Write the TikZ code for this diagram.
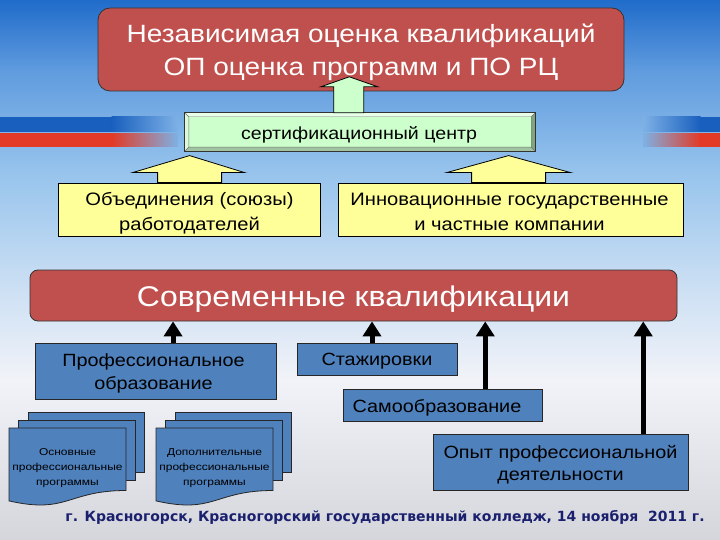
\documentclass[tikz,border=0pt]{standalone}
\usepackage{fontspec}
\setmainfont{Liberation Sans}
\newfontfamily\boxfont[FakeStretch=1.12]{Liberation Sans}
\newfontfamily\docfont[FakeStretch=1.2]{Liberation Sans}
\newfontfamily\footfont{DejaVu Sans}
\usetikzlibrary{arrows.meta,calc}
\definecolor{bgA}{RGB}{32,108,202}
\definecolor{bgB}{RGB}{95,155,222}
\definecolor{bgC}{RGB}{150,195,236}
\definecolor{bgD}{RGB}{205,224,244}
\definecolor{bgE}{RGB}{242,243,248}
\definecolor{bgF}{RGB}{212,214,220}
\definecolor{stripeblue}{RGB}{25,95,190}
\definecolor{stripered}{RGB}{226,58,38}
\definecolor{redf}{RGB}{192,80,77}
\definecolor{bluef}{RGB}{79,129,189}
\definecolor{yelf}{RGB}{255,255,153}
\definecolor{certf}{RGB}{204,255,204}
\definecolor{certlt}{RGB}{232,255,232}
\definecolor{certlt2}{RGB}{218,250,218}
\definecolor{certdk}{RGB}{160,196,160}
\definecolor{certdk2}{RGB}{128,165,128}
\definecolor{navy}{RGB}{26,32,110}
\begin{document}
\begin{tikzpicture}[x=1pt,y=-1pt,
  redbox/.style={draw=black!80, line width=0.8pt, fill=redf, inner sep=0pt},
  bluebox/.style={draw=black!85, line width=0.8pt, fill=bluef, inner sep=0pt},
  yelbox/.style={draw=black, line width=0.8pt, fill=yelf, inner sep=0pt},
  blockarrow/.style={draw=black, line width=0.8pt},
  blkarrow/.style={line width=5pt, -{Triangle[width=18pt,length=15pt]}},
  docshape/.style={draw=black!85, line width=0.8pt, fill=bluef},
  titletxt/.style={anchor=base, inner sep=0pt, text=white, font=\boxfont\fontsize{25}{30}\selectfont},
  midtxt/.style={anchor=base, inner sep=0pt, text=white, font=\boxfont\fontsize{28.5}{32}\selectfont},
  plaintxt/.style={anchor=base, inner sep=0pt, text=black, font=\boxfont\fontsize{17.7}{22}\selectfont},
  doctxt/.style={anchor=base, inner sep=0pt, text=black, font=\docfont\fontsize{10}{12}\selectfont},
]
% background
\useasboundingbox (0,0) rectangle (720,540);
\shade[top color=bgA, bottom color=bgB] (0,0) rectangle (720,70.5);
\shade[top color=bgB, bottom color=bgC] (0,70) rectangle (720,170.5);
\shade[top color=bgC, bottom color=bgD] (0,170) rectangle (720,290.5);
\shade[top color=bgD, bottom color=bgE] (0,290) rectangle (720,380.5);
\shade[top color=bgE, bottom color=bgF] (0,380) rectangle (720,540);
% stripes
\colorlet{stripebg}{bgB!45!bgC}
\fill[stripeblue] (0,117) rectangle (112,132);
\shade[left color=stripeblue, right color=stripebg] (111.5,117) rectangle (178,132);
\fill[stripered] (0,133.5) rectangle (112,147);
\shade[left color=stripered, right color=stripebg] (111.5,133.5) rectangle (178,147);
\shade[left color=stripebg, right color=stripeblue] (643,117) rectangle (700.5,132);
\fill[stripeblue] (700,117) rectangle (720,132);
\shade[left color=stripebg, right color=stripered] (643,133.5) rectangle (700.5,147);
\fill[stripered] (700,133.5) rectangle (720,147);

% top box
\node[redbox, rounded corners=12pt, minimum width=526pt, minimum height=83pt] (top) at (361,49.5) {};
\node[titletxt] (t1) at (361,43) {Независимая оценка квалификаций};
\node[titletxt] (t2) at (361,76) {ОП оценка программ и ПО РЦ};

% certification centre
\node[minimum width=350pt, minimum height=38pt, inner sep=0pt] (cert) at (360,132) {};
\fill[certlt] (cert.north west) -- (cert.north east) -- ($(cert.north east)+(-4,4)$) -- ($(cert.north west)+(4,4)$) -- cycle;
\fill[certlt2] (cert.north west) -- ($(cert.north west)+(4,4)$) -- ($(cert.south west)+(4,-4)$) -- (cert.south west) -- cycle;
\fill[certdk] (cert.south west) -- ($(cert.south west)+(4,-4)$) -- ($(cert.south east)+(-4,-4)$) -- (cert.south east) -- cycle;
\fill[certdk2] (cert.north east) -- (cert.south east) -- ($(cert.south east)+(-4,-4)$) -- ($(cert.north east)+(-4,4)$) -- cycle;
\fill[certf] ($(cert.north west)+(4,4)$) rectangle ($(cert.south east)+(-4,-4)$);
\draw[black!55, line width=0.4pt] ($(cert.north west)+(4,4)$) rectangle ($(cert.south east)+(-4,-4)$)
  (cert.north west) -- ($(cert.north west)+(4,4)$) (cert.north east) -- ($(cert.north east)+(-4,4)$)
  (cert.south west) -- ($(cert.south west)+(4,-4)$) (cert.south east) -- ($(cert.south east)+(-4,-4)$);
\draw[black!80, line width=0.7pt] (cert.north west) rectangle (cert.south east);
\node[plaintxt, font=\boxfont\fontsize{17.5}{20}\selectfont] (certt) at (359,140) {сертификационный центр};

% green arrow cert -> top
\coordinate (ga) at ($(cert.north west)+(164,0)$);
\draw[blockarrow, fill=certf] ($(ga)+(-15,0)$) -- ($(ga)+(-15,-26)$) -- ($(ga)+(-28,-26)$) -- ($(ga)+(0.5,-36)$)
  -- ($(ga)+(29,-26)$) -- ($(ga)+(15,-26)$) -- ($(ga)+(15,0)$) -- cycle;

% yellow boxes
\node[yelbox, minimum width=262pt, minimum height=53pt] (yl) at (189,209.5) {};
\node[yelbox, minimum width=345pt, minimum height=53pt] (yr) at (510.5,209.5) {};
\node[plaintxt, font=\boxfont\fontsize{18}{22}\selectfont] (yl1) at (189.5,206) {Объединения (союзы)};
\node[plaintxt, font=\boxfont\fontsize{18}{22}\selectfont] (yl2) at (189.5,230) {работодателей};
\node[plaintxt, font=\boxfont\fontsize{18}{22}\selectfont] (yr1) at (509.5,206) {Инновационные государственные};
\node[plaintxt, font=\boxfont\fontsize{18}{22}\selectfont] (yr2) at (509.5,230) {и частные компании};

% yellow arrows
\coordinate (ya) at ($(yl.north west)+(132,0)$);
\draw[blockarrow, fill=yelf] ($(ya)+(-32,0)$) -- ($(ya)+(-32,-10)$) -- ($(ya)+(-57,-10)$) -- ($(ya)+(0,-27)$)
  -- ($(ya)+(55,-10)$) -- ($(ya)+(32,-10)$) -- ($(ya)+(32,0)$) -- cycle;
\coordinate (yb) at ($(yr.north west)+(171,0)$);
\draw[blockarrow, fill=yelf] ($(yb)+(-37,0)$) -- ($(yb)+(-37,-10)$) -- ($(yb)+(-62,-10)$) -- ($(yb)+(0,-27)$)
  -- ($(yb)+(62,-10)$) -- ($(yb)+(37,-10)$) -- ($(yb)+(37,0)$) -- cycle;

% modern qualifications
\node[redbox, rounded corners=8pt, minimum width=647pt, minimum height=51pt] (mid) at (353.5,295.5) {};
\node[midtxt] (midt) at (353.5,306) {Современные квалификации};

% blue boxes
\node[bluebox, minimum width=241pt, minimum height=56pt] (prof) at (155.5,371) {};
\node[bluebox, minimum width=160pt, minimum height=32pt] (staj) at (377,359) {};
\node[bluebox, minimum width=199pt, minimum height=32pt] (samo) at (442.5,405) {};
\node[bluebox, minimum width=255pt, minimum height=56pt] (opyt) at (560.5,462) {};
\node[plaintxt] (prof1) at (153.5,366) {Профессиональное};
\node[plaintxt] (prof2) at (153.5,389) {образование};
\node[plaintxt] (stajt) at (377,365) {Стажировки};
\node[plaintxt] (samot) at (437,412) {Самообразование};
\node[plaintxt] (opyt1) at (560.5,458) {Опыт профессиональной};
\node[plaintxt] (opyt2) at (560.5,480) {деятельности};

% black arrows
\coordinate (a1) at ($(prof.north west)!0.5726!(prof.north east)$);
\coordinate (a2) at ($(staj.north west)!0.469!(staj.north east)$);
\coordinate (a3) at ($(samo.north west)!0.714!(samo.north east)$);
\coordinate (a4) at ($(opyt.north west)!0.8235!(opyt.north east)$);
\foreach \a in {a1,a2,a3,a4} \draw[blkarrow] (\a) -- (\a |- mid.south);

% document stacks
\foreach \dx in {9,156} {
  \begin{scope}[shift={(\dx,428)}]
    \draw[docshape] (19,-16) rectangle (135,44);
    \draw[docshape] (9,-8) rectangle (126,52);
    \draw[docshape] (0,0) -- (117,0) -- (117,62.5) .. controls (58.5,62.5) and (58.5,86.3) .. (0,72.9) -- cycle;
  \end{scope}
}
\node[doctxt] (d11) at (67.5,455) {Основные};
\node[doctxt] (d12) at (67.5,470) {профессиональные};
\node[doctxt] (d13) at (67.5,485) {программы};
\node[doctxt] (d21) at (214.5,455) {Дополнительные};
\node[doctxt] (d22) at (214.5,470) {профессиональные};
\node[doctxt] (d23) at (214.5,485) {программы};

% footer
\node[anchor=base, inner sep=0pt, text=navy, font=\footfont\bfseries\fontsize{14}{16}\selectfont] (foot) at (385,521)
  {г. Красногорск, Красногорский государственный колледж, 14 ноября~ 2011 г.};
\end{tikzpicture}
\end{document}
